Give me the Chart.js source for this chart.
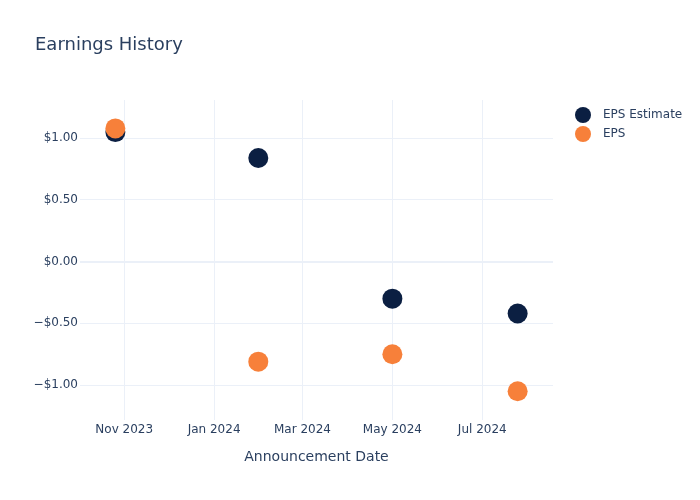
<!DOCTYPE html>
<html>
<head>
<meta charset="utf-8">
<script src="https://cdn.jsdelivr.net/npm/chart.js@4"></script>
<style>
  body { margin: 0; background: #fff; }
  #wrap { width: 700px; height: 500px; }
</style>
</head>
<body>
<div id="wrap"><canvas id="chart" width="700" height="500"></canvas></div>
<script>
// announcement dates (yyyy, m, d)
const dates = [[2023, 10, 26], [2024, 1, 31], [2024, 5, 1], [2024, 7, 25]];
const epsEstimate = [1.05, 0.84, -0.30, -0.42];
const eps = [1.08, -0.81, -0.75, -1.05];
const xTickDates = [[2023, 11, 1], [2024, 1, 1], [2024, 3, 1], [2024, 5, 1], [2024, 7, 1]];
const yTicks = [1, 0.5, 0, -0.5, -1];
const monthNames = ["Jan", "Feb", "Mar", "Apr", "May", "Jun", "Jul", "Aug", "Sep", "Oct", "Nov", "Dec"];

const textColor = "#2a3f5f";
const gridColor = "#ebf0f8";
const estColor = "#0b1f42";
const epsColor = "#f7803a";

function toMs(d) {
  return Date.UTC(d[0], d[1] - 1, d[2]);
}

function money(v) {
  const s = "$" + Math.abs(v).toFixed(2);
  return v < 0 ? "\u2212" + s : s;
}

// title and legend drawn on the canvas
const decorPlugin = {
  id: "decor",
  afterDraw(chart) {
    const ctx = chart.ctx;
    ctx.save();
    ctx.fillStyle = textColor;
    ctx.font = "18px 'DejaVu Sans', sans-serif";
    ctx.textBaseline = "middle";
    ctx.textAlign = "left";
    ctx.fillText("Earnings History", 35, 45);

    ctx.font = "12px 'DejaVu Sans', sans-serif";
    chart.data.datasets.forEach((ds, i) => {
      const y = 115 + i * 19;
      ctx.beginPath();
      ctx.arc(583, y, 8, 0, Math.PI * 2);
      ctx.fillStyle = ds.backgroundColor;
      ctx.fill();
      ctx.fillStyle = textColor;
      ctx.fillText(ds.label, 603, y);
    });
    ctx.restore();
  }
};

const config = {
  type: "scatter",
  data: {
    datasets: [
      {
        label: "EPS Estimate",
        data: dates.map((d, i) => ({ x: toMs(d), y: epsEstimate[i] })),
        backgroundColor: estColor,
        borderWidth: 0,
        pointRadius: 10,
        pointHoverRadius: 10,
        order: 1,
      },
      {
        label: "EPS",
        data: dates.map((d, i) => ({ x: toMs(d), y: eps[i] })),
        backgroundColor: epsColor,
        borderWidth: 0,
        pointRadius: 10,
        pointHoverRadius: 10,
        order: 0,
      },
    ],
  },
  options: {
    responsive: false,
    animation: false,
    layout: { padding: { top: 100, right: 147, left: 0, bottom: 0 } },
    plugins: {
      legend: { display: false },
      tooltip: { enabled: false },
    },
    scales: {
      x: {
        type: "linear",
        min: toMs([2023, 10, 2]),
        max: toMs([2024, 8, 18]),
        afterBuildTicks: (scale) => {
          scale.ticks = xTickDates.map((d) => ({ value: toMs(d) }));
        },
        afterFit: (scale) => { scale.height = 80; },
        ticks: {
          color: textColor,
          font: { family: "'DejaVu Sans', sans-serif", size: 12 },
          padding: 3,
          maxRotation: 0,
          callback: function (value) {
            const d = new Date(value);
            return monthNames[d.getUTCMonth()] + " " + d.getUTCFullYear();
          },
        },
        grid: { color: gridColor, lineWidth: 1, drawTicks: false },
        border: { display: false },
        title: {
          display: true,
          text: "Announcement Date",
          color: textColor,
          font: { family: "'DejaVu Sans', sans-serif", size: 14 },
          padding: { top: 0, bottom: 34 },
        },
      },
      y: {
        min: -1.283,
        max: 1.31,
        afterBuildTicks: (scale) => {
          scale.ticks = yTicks.map((v) => ({ value: v }));
        },
        afterFit: (scale) => { scale.width = 80; },
        ticks: {
          color: textColor,
          font: { family: "'DejaVu Sans', sans-serif", size: 12 },
          padding: 2,
          callback: (value) => money(value),
        },
        grid: {
          color: gridColor,
          lineWidth: (c) => (c.tick && c.tick.value === 0 ? 2 : 1),
          drawTicks: false,
        },
        border: { display: false },
      },
    },
  },
  plugins: [decorPlugin],
};

new Chart(document.getElementById("chart"), config);
</script>
</body>
</html>
